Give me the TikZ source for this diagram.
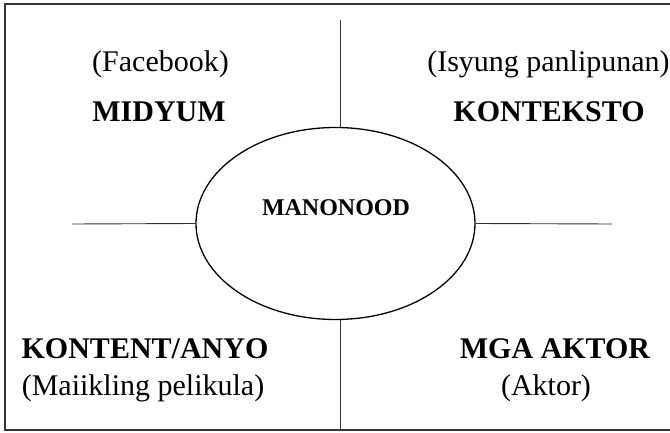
\documentclass[tikz,border=0pt]{standalone}
\usepackage{fontspec}
\setmainfont{Liberation Serif}
\usetikzlibrary{shapes.geometric}
\tikzset{
  txt/.style={anchor=base, inner sep=0pt, font=\fontsize{30}{36}\selectfont},
  hd/.style={anchor=base, inner sep=0pt, font=\fontsize{30}{36}\selectfont\bfseries},
  arm/.style={line width=0.9pt, draw=black!80}
}
\begin{document}
\begin{tikzpicture}[x=1pt, y=-1pt]
    \useasboundingbox (0,0) rectangle (670,433);
    \draw [line width=2pt, draw=black!80] (675,4) -- (5,4) -- (5,430) -- (675,430);
    \node[ellipse, draw, line width=1.3pt, minimum width=279pt, minimum height=192pt, inner sep=0pt] (man) at (335.5,223.5){};
    \node[anchor=base, inner sep=0pt, font=\fontsize{24}{29}\selectfont\bfseries] (manlbl) at (336,216){MANONOOD};
    \coordinate (top) at (340,20);
    \coordinate (bot) at (340,429);
    \coordinate (lft) at (72,224);
    \coordinate (rgt) at (612,224);
    \draw [arm] (top) -- (top |- man.north);
    \draw [arm] (bot) -- (bot |- man.south);
    \draw [arm] (lft) -- (man.west);
    \draw [arm] (rgt) -- (man.east);
    \node[txt] (fb) at (160.5,72){(Facebook)};
    \node[hd] (mid) at (159,122){MIDYUM};
    \node[txt] (isy) at (548.5,72){(Isyung panlipunan)};
    \node[hd] (kon) at (549,122){KONTEKSTO};
    \node[hd] (kont) at (145,358){KONTENT/ANYO};
    \node[txt] (mai) at (143,395){(Maiikling pelikula)};
    \node[hd] (mga) at (555,358){MGA AKTOR};
    \node[txt] (akt) at (546,395){(Aktor)};
\end{tikzpicture}
\end{document}
